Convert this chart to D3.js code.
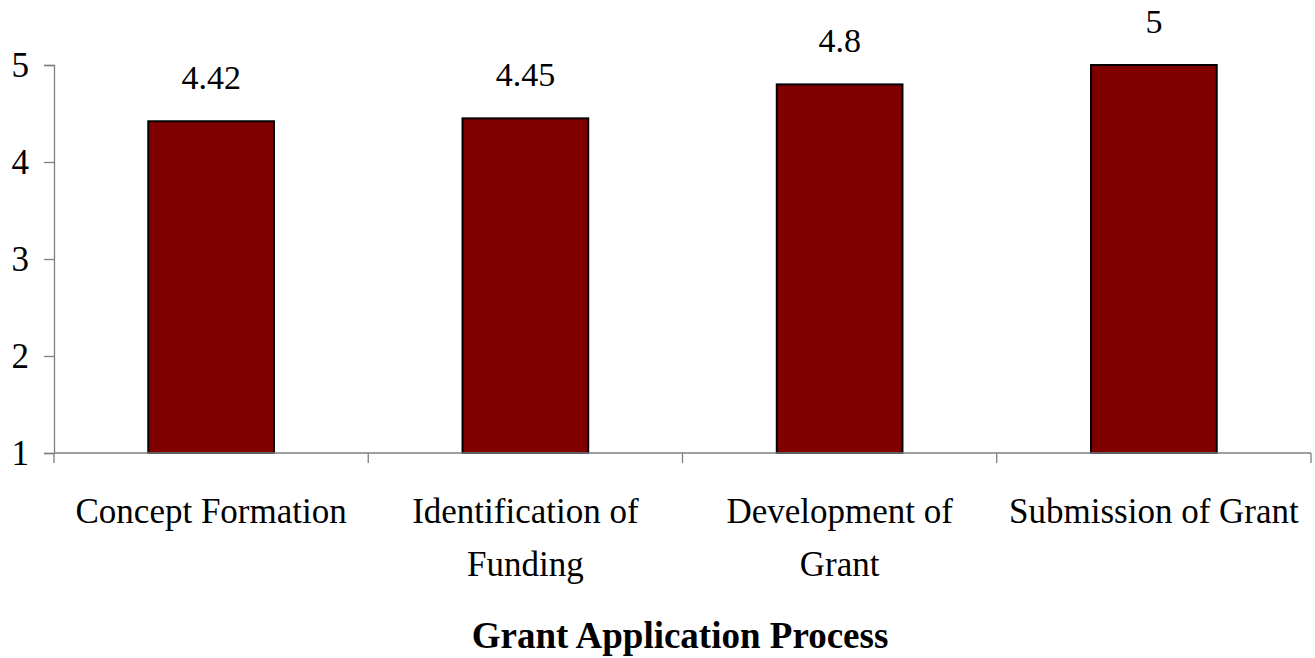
<!DOCTYPE html>
<html>
<head>
<meta charset="utf-8">
<script src="https://cdn.jsdelivr.net/npm/d3@7"></script>
<style>
  html, body { margin: 0; padding: 0; background: #fff; }
  svg { display: block; }
  text { font-family: "Liberation Serif", "Times New Roman", serif; fill: #000; }
</style>
</head>
<body>
<svg id="chart" width="1315" height="658"></svg>
<script>
const categories = [["Concept Formation"], ["Identification of", "Funding"], ["Development of", "Grant"], ["Submission of Grant"]];
const values = [4.42, 4.45, 4.8, 5];
const valueLabels = ["4.42", "4.45", "4.8", "5"];
const yTicks = [1, 2, 3, 4, 5];
const xTitle = "Grant Application Process";

const svg = d3.select("#chart");
const margin = {left: 54, right: 4, top: 65, bottom: 205};
const W = 1315, H = 658;
const x0 = margin.left, x1 = W - margin.right;
const yTop = margin.top, yBot = H - margin.bottom;

const x = d3.scaleBand().domain(d3.range(categories.length)).range([x0, x1]).paddingInner(0.6).paddingOuter(0.3);
const y = d3.scaleLinear().domain([1, 5]).range([yBot, yTop]);

// bars
svg.append("g").selectAll("rect").data(values).join("rect")
  .attr("x", (d, i) => x(i))
  .attr("y", d => y(d))
  .attr("width", x.bandwidth())
  .attr("height", d => y(1) - y(d))
  .attr("fill", "#800000")
  .attr("stroke", "#000")
  .attr("stroke-width", 2);

// y axis
const yAxis = svg.append("g").attr("transform", `translate(${x0},0)`)
  .call(d3.axisLeft(y).tickValues(yTicks).tickFormat(d3.format("d")).tickSize(10).tickPadding(15));
yAxis.select(".domain").attr("stroke", "#7f7f7f").attr("stroke-width", 1.3);
yAxis.selectAll(".tick line").attr("stroke", "#7f7f7f").attr("stroke-width", 1.3);
yAxis.selectAll(".tick text").style("font-size", "35px").attr("dy", "0.34em")
  .style("font-family", "'Liberation Serif', serif").attr("fill", "#000");

// x axis line and ticks at band boundaries
const xb = d3.scaleLinear().domain([0, categories.length]).range([x0, x1]);
svg.append("line").attr("x1", x0).attr("x2", x1).attr("y1", yBot).attr("y2", yBot)
  .attr("stroke", "#7f7f7f").attr("stroke-width", 1.3);
svg.append("g").selectAll("line").data(d3.range(categories.length + 1)).join("line")
  .attr("x1", d => xb(d)).attr("x2", d => xb(d))
  .attr("y1", yBot).attr("y2", yBot + 10)
  .attr("stroke", "#7f7f7f").attr("stroke-width", 1.3);

// category labels
const catG = svg.append("g");
categories.forEach((lines, i) => {
  const cx = x(i) + x.bandwidth() / 2;
  const t = catG.append("text").attr("text-anchor", "middle").style("font-size", "35px");
  lines.forEach((ln, j) => {
    t.append("tspan").attr("x", cx).attr("y", yBot + 70 + j * 53).text(ln);
  });
});

// value labels
svg.append("g").selectAll("text").data(values).join("text")
  .attr("x", (d, i) => x(i) + x.bandwidth() / 2)
  .attr("y", d => y(d) - 32)
  .attr("text-anchor", "middle")
  .style("font-size", "34px")
  .text((d, i) => valueLabels[i]);

// x title
svg.append("text")
  .attr("x", 680)
  .attr("y", 648)
  .attr("text-anchor", "middle")
  .style("font-size", "37px")
  .style("font-weight", "bold")
  .text(xTitle);
</script>
</body>
</html>
